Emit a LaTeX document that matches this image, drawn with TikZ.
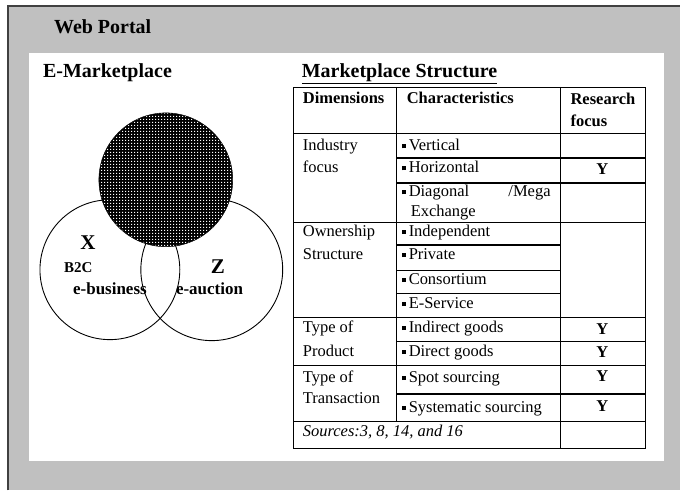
\documentclass[tikz,border=0pt]{standalone}
\usepackage{fontspec}
\setmainfont{Liberation Serif}
\usetikzlibrary{patterns}
\definecolor{portalgray}{HTML}{C0C0C0}
\definecolor{edgegray}{HTML}{404040}
\pgfdeclarepatternformonly{meshdots}{\pgfpointorigin}{\pgfpoint{3pt}{3pt}}{\pgfpoint{3pt}{3pt}}{%
  \pgfpathrectangle{\pgfpointorigin}{\pgfpoint{1.25pt}{1.25pt}}\pgfusepath{fill}}
\newcommand{\sqbul}{\rule[2.5pt]{4pt}{4pt}\hspace{3pt}}
\tikzset{
  cell/.style={anchor=base west, inner sep=0pt, font=\fontsize{16.5}{18}\selectfont},
  headcell/.style={cell, font=\fontsize{16.5}{18}\selectfont\bfseries},
  ycell/.style={anchor=base, inner sep=0pt, font=\fontsize{16.5}{18}\selectfont\bfseries},
  title/.style={anchor=base west, inner sep=0pt, font=\fontsize{20}{22}\selectfont\bfseries},
  tabline/.style={line width=0.8pt},
  thickrule/.style={line width=2pt},
  vennring/.style={draw, circle, line width=0.9pt, inner sep=0pt},
  bigletter/.style={anchor=base, inner sep=0pt, font=\fontsize{21}{23}\selectfont\bfseries},
  smalllabel/.style={anchor=base west, inner sep=0pt, font=\fontsize{17}{19}\selectfont\bfseries},
}
\begin{document}
\begin{tikzpicture}[x=1pt,y=-1pt]
\fill[white] (0,0) rectangle (681,491);
\fill[portalgray] (8,6) rectangle (681,491);
\draw[edgegray, line width=1.5pt] (8,491)--(8,6)--(681,6);
\fill[white] (29,53) rectangle (665,462);
\node[title] (portal) at (54,34) {Web Portal};
\node[title] (emarket) at (43,78) {E-Marketplace};
\node[title] (mstruct) at (302,78) {\underline{Marketplace Structure}};

% venn diagram
\node[vennring, minimum size=140pt] (bc) at (110,270) {};
\node[vennring, minimum size=142pt] (auct) at (212,270) {};
\node[circle, fill=black, draw, inner sep=0pt, minimum size=134pt] (bb) at (166,180) {};
\node[bigletter] (ylet) at (166,164) {Y};
\node[anchor=base, inner sep=0pt, font=\fontsize{14}{16}\selectfont\bfseries] (bbtxt) at (166,181) {B2B};
\node[anchor=base, inner sep=0pt, font=\fontsize{14}{16}\selectfont\bfseries] (bbsub) at (166,199) {e-business};
\fill[pattern=meshdots, pattern color=white] (bb.center) circle (66.5);
\node[bigletter] (xlet) at (88,250) {X};
\node[anchor=base west, inner sep=0pt, font=\fontsize{15}{17}\selectfont\bfseries] (bctxt) at (64,273) {B2C};
\node[smalllabel] (bcsub) at (73,295) {e-business};
\node[bigletter] (zlet) at (218,274) {Z};
\node[smalllabel] (auctsub) at (176,295) {e-auction};

% table
\draw[tabline] (294,87) rectangle (646,449);
\draw[tabline] (397,87)--(397,422);
\draw[tabline] (561,87)--(561,449);
\draw[tabline] (294,134)--(646,134);
\draw[thickrule] (397,158)--(646,158);
\draw[thickrule] (397,183)--(646,183);
\draw[tabline] (294,223)--(646,223);
\draw[thickrule] (397,245)--(561,245);
\draw[tabline] (397,271)--(561,271);
\draw[tabline] (397,294)--(561,294);
\draw[tabline] (294,318)--(646,318);
\draw[tabline] (397,342)--(646,342);
\draw[tabline] (294,366)--(646,366);
\draw[thickrule] (397,394)--(646,394);
\draw[tabline] (294,422)--(646,422);

\node[headcell] (dimh) at (303,104) {Dimensions};
\node[headcell] (charh) at (407,104) {Characteristics};
\node[headcell] (resh) at (571,105) {Research};
\node[headcell] (resh2) at (571,127) {focus};

\node[cell] (ind1) at (303,151) {Industry};
\node[cell] (ind2) at (303,173) {focus};
\node[cell] (vert) at (402,151) {\sqbul Vertical};
\node[cell] (horiz) at (402,173) {\sqbul Horizontal};
\node[cell, text width=149pt] (diag) at (402,197) {\sqbul Diagonal\hfill/Mega};
\node[cell] (exch) at (411,217) {Exchange};

\node[cell] (own1) at (303,237) {Ownership};
\node[cell] (own2) at (303,260) {Structure};
\node[cell] (indep) at (402,237) {\sqbul Independent};
\node[cell] (priv) at (402,260) {\sqbul Private};
\node[cell] (cons) at (402,285) {\sqbul Consortium};
\node[cell] (eserv) at (402,309) {\sqbul E-Service};

\node[cell] (prod1) at (303,333) {Type of};
\node[cell] (prod2) at (303,357) {Product};
\node[cell] (indir) at (402,333) {\sqbul Indirect goods};
\node[cell] (direct) at (402,357) {\sqbul Direct goods};

\node[cell] (tran1) at (303,383) {Type of};
\node[cell] (tran2) at (303,404) {Transaction};
\node[cell] (spot) at (402,383) {\sqbul Spot sourcing};
\node[cell] (syst) at (402,413) {\sqbul Systematic sourcing};

\node[cell, font=\fontsize{16.5}{18}\selectfont\itshape] (srcs) at (303,437) {Sources:3, 8, 14, and 16};

\node[ycell] (yhoriz) at (603,175) {Y};
\node[ycell] (yindir) at (603,335) {Y};
\node[ycell] (ydirect) at (603,358) {Y};
\node[ycell] (yspot) at (603,382) {Y};
\node[ycell] (ysyst) at (603,412) {Y};
\end{tikzpicture}
\end{document}
